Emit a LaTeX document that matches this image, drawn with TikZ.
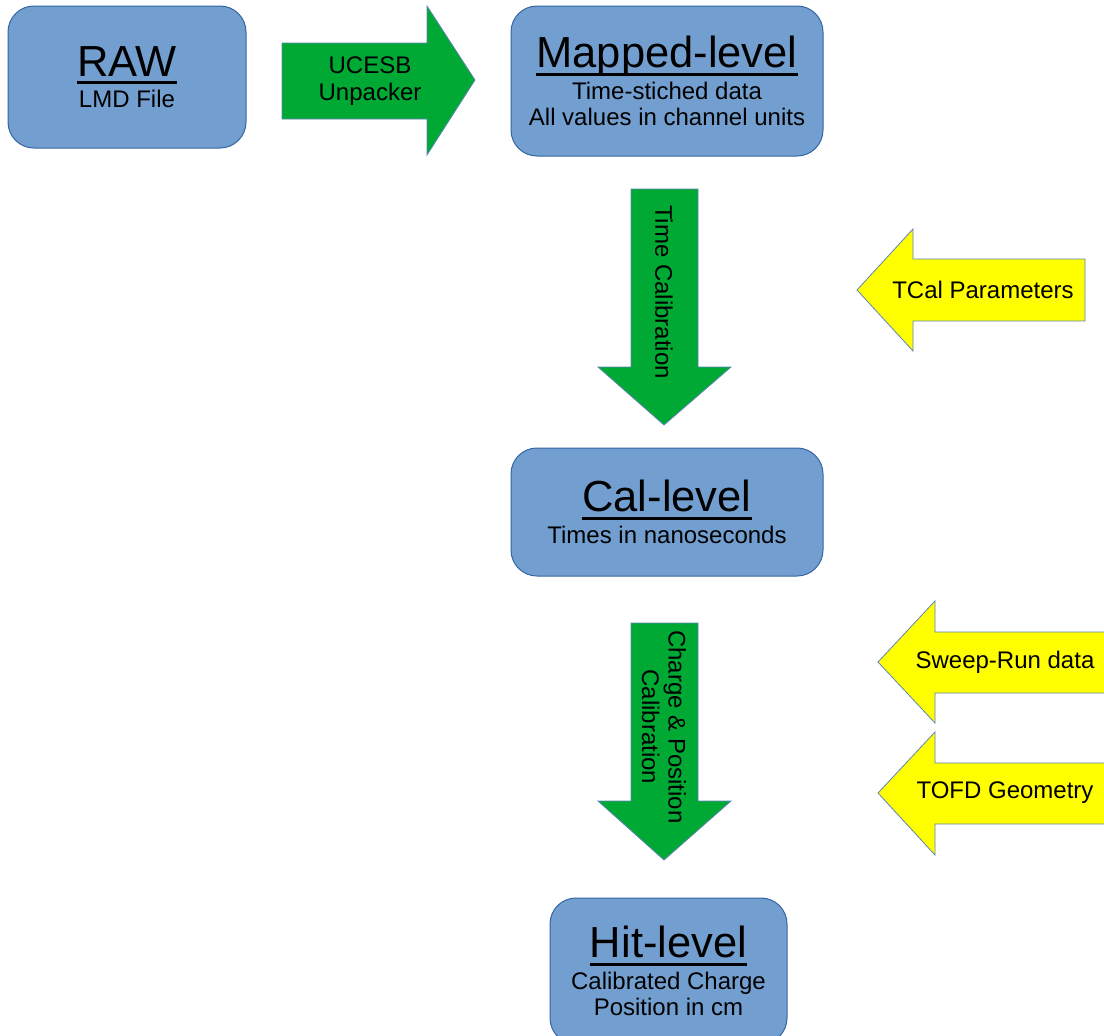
\documentclass[tikz,border=0pt]{standalone}
\usepackage{fontspec}
\setmainfont{Liberation Sans}
\usepackage{xcolor}
\usetikzlibrary{positioning}
\definecolor{boxblue}{HTML}{729FCF}
\definecolor{edgeblue}{HTML}{3465A4}
\definecolor{arrowgreen}{HTML}{00A933}
\definecolor{arrowyellow}{HTML}{FFFF00}
\newcommand\ulttl[1]{\setbox0\hbox{#1}\leavevmode\rlap{\rule[-8pt]{\wd0}{3pt}}\box0}
\newcommand\ttlfont{\fontsize{43.5}{48}\selectfont}
\newcommand\subfont{\fontsize{24}{26.5}\selectfont}
\tikzset{
  lvlbox/.style={draw=edgeblue, fill=boxblue, line width=1pt, rounded corners=26pt,
    align=center, inner sep=0pt, font=\subfont},
  greenarrow/.style={draw=edgeblue!80, fill=arrowgreen, line width=0.8pt},
  yellowarrow/.style={draw=edgeblue!80, fill=arrowyellow, line width=0.8pt},
  arrowtext/.style={align=center, inner sep=0pt, font=\subfont}
}
\begin{document}
\begin{tikzpicture}[x=1pt,y=-1pt]
            \useasboundingbox (0,0) rectangle (1104,1036);
            % Levels
            \node[lvlbox, minimum width=238pt, minimum height=142pt] (raw) at (127,77)
                {{\ttlfont\ulttl{RAW}}\\[5pt]LMD File};
            \node[lvlbox, minimum width=312pt, minimum height=150pt] (mapped) at (667,81)
                {{\ttlfont\ulttl{Mapped-level}}\\[5pt]Time-stiched data\\All values in channel units};
            \node[lvlbox, minimum width=312pt, minimum height=128pt] (cal) at (667,512)
                {{\ttlfont\ulttl{Cal-level}}\\[5pt]Times in nanoseconds};
            \node[lvlbox, minimum width=237pt, minimum height=146pt] (hit) at (668.5,971)
                {{\ttlfont\ulttl{Hit-level}}\\[5pt]Calibrated Charge\\Position in cm};
            % Steps
            \draw[greenarrow] (282,43) -- (427,43) -- (427,6) -- (475,80) -- (427,155) -- (427,119) -- (282,119) -- cycle;
            \node[arrowtext] (unpack) at (370,81) {UCESB\\Unpacker};
            \draw[greenarrow] (631,189) -- (698,189) -- (698,367) -- (731,367) -- (664,425) -- (598,367) -- (631,367) -- cycle;
            \node[arrowtext, rotate=-90] (tcal) at (664,292) {Time Calibration};
            \draw[greenarrow] (631,623) -- (698,623) -- (698,801) -- (731,801) -- (664,860) -- (598,801) -- (631,801) -- cycle;
            \node[arrowtext, rotate=-90] (qpos) at (664,727) {Charge \& Position\\Calibration};
            % Inputs
            \draw[yellowarrow] (1085,259) -- (913,259) -- (913,229) -- (857,290) -- (913,351) -- (913,321) -- (1085,321) -- cycle;
            \node[arrowtext] (tcalpar) at (983,290) {TCal Parameters};
            \draw[yellowarrow] (1115,632) -- (935,632) -- (935,601) -- (878,662) -- (935,723) -- (935,693) -- (1115,693) -- cycle;
            \node[arrowtext] (sweep) at (1005,662) {Sweep-Run data};
            \draw[yellowarrow] (1115,763) -- (935,763) -- (935,732) -- (878,793) -- (935,855) -- (935,824) -- (1115,824) -- cycle;
            \node[arrowtext] (geom) at (1005,793) {TOFD Geometry};
\end{tikzpicture}
\end{document}
